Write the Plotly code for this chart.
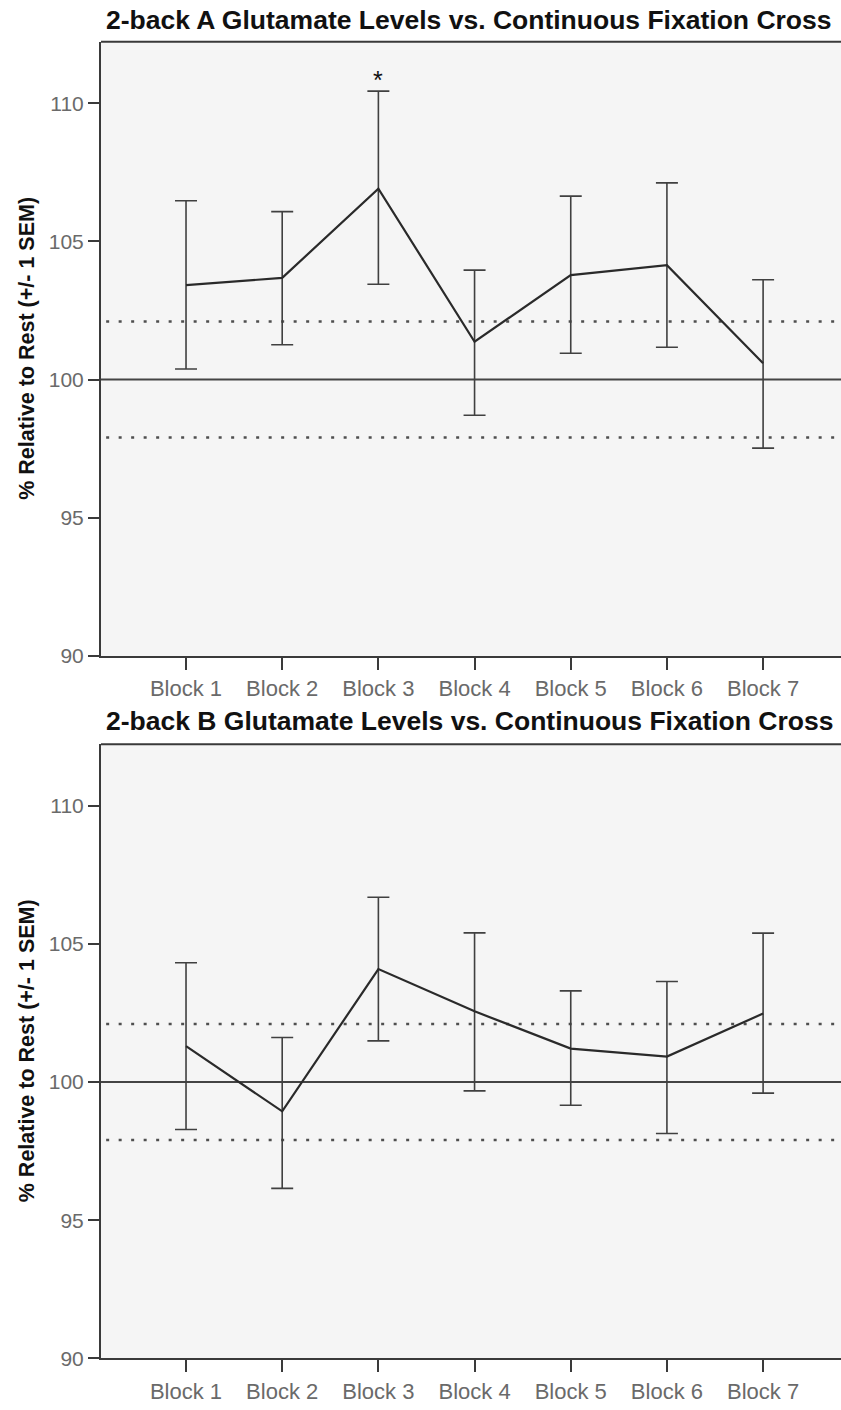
import plotly.graph_objects as go

blocks = ["Block 1", "Block 2", "Block 3", "Block 4", "Block 5", "Block 6", "Block 7"]

a_mean = [103.42, 103.68, 106.91, 101.37, 103.78, 104.14, 100.59]
a_upper = [106.47, 106.08, 110.44, 103.96, 106.64, 107.12, 103.61]
a_lower = [100.38, 101.26, 103.45, 98.71, 100.95, 101.17, 97.52]

b_mean = [101.30, 98.94, 104.09, 102.56, 101.21, 100.92, 102.48]
b_upper = [104.32, 101.61, 106.69, 105.40, 103.30, 103.64, 105.39]
b_lower = [98.28, 96.15, 101.49, 99.68, 99.16, 98.14, 99.60]

ref_line = 100
band_upper = 102.1
band_lower = 97.9
y_ticks = [90, 95, 100, 105, 110]

titles = ["2-back A Glutamate Levels vs. Continuous Fixation Cross",
          "2-back B Glutamate Levels vs. Continuous Fixation Cross"]
y_title = "% Relative to Rest (+/- 1 SEM)"

W, H = 841, 1410
L = 101
panels_px = [(42, 661), (750, 1369)]
title_px = [20, 727]

fig = go.Figure()

font_fam = "Liberation Sans, Arial, sans-serif"
axis_col = "#3a3a3a"

datasets = [(a_mean, a_upper, a_lower), (b_mean, b_upper, b_lower)]
for i, (m, up, lo) in enumerate(datasets):
    xa = "x" if i == 0 else "x2"
    ya = "y" if i == 0 else "y2"
    for val, dash, col, w in [(band_upper, "3px,9.5px", "#4f4f4f", 2.5),
                              (band_lower, "3px,9.5px", "#4f4f4f", 2.5),
                              (ref_line, "solid", "#444444", 2)]:
        fig.add_trace(go.Scatter(
            x=[-2, 9], y=[val, val], mode="lines",
            line=dict(color=col, width=w, dash=dash),
            xaxis=xa, yaxis=ya, showlegend=False, hoverinfo="skip"))
    fig.add_trace(go.Scatter(
        x=list(range(len(blocks))), y=m, mode="lines",
        line=dict(color="#2a2a2a", width=2.2),
        error_y=dict(type="data", symmetric=False,
                     array=[u - v for u, v in zip(up, m)],
                     arrayminus=[v - l for v, l in zip(m, lo)],
                     color="#404040", thickness=1.6, width=11),
        xaxis=xa, yaxis=ya, showlegend=False))

def ydom(px):
    top, bot = px
    return [1 - bot / H, 1 - top / H]

xrange_ = [-0.884, 6.81]
common_x = dict(range=xrange_, tickmode="array", tickvals=list(range(7)), ticktext=blocks,
                showline=True, linecolor=axis_col, linewidth=2, ticks="outside",
                ticklen=12, tickwidth=1.5, tickcolor=axis_col, showgrid=False, zeroline=False,
                tickfont=dict(family=font_fam, size=22, color="#6a6a6a"), mirror=False)
common_y = dict(range=[90, 112.23], tickmode="array", tickvals=y_ticks,
                showline=True, linecolor=axis_col, linewidth=2, ticks="outside",
                ticklen=11, tickwidth=2, tickcolor=axis_col, showgrid=False, zeroline=False,
                tickfont=dict(family=font_fam, size=21, color="#6a6a6a"))

fig.update_layout(
    width=W, height=H,
    margin=dict(l=L, r=0, t=0, b=0),
    paper_bgcolor="white", plot_bgcolor="#f5f5f5",
    xaxis=dict(domain=[0, 1], anchor="y", **common_x),
    yaxis=dict(domain=ydom(panels_px[0]), anchor="x", **common_y),
    xaxis2=dict(domain=[0, 1], anchor="y2", **common_x),
    yaxis2=dict(domain=ydom(panels_px[1]), anchor="x2", **common_y),
)

shapes = []
annotations = []
pw = W - L
for i, (top, bot) in enumerate(panels_px):
    shapes.append(dict(type="line", xref="paper", yref="paper",
                       x0=0, x1=1, y0=1 - top / H, y1=1 - top / H,
                       line=dict(color=axis_col, width=2)))
    annotations.append(dict(text="<b>" + titles[i] + "</b>", xref="paper", yref="paper",
                            x=(469 - L) / pw, y=1 - title_px[i] / H, xanchor="center",
                            yanchor="middle", showarrow=False,
                            font=dict(family=font_fam, size=26.5, color="#111111")))
    annotations.append(dict(text="<b>" + y_title + "</b>", xref="paper", yref="paper",
                            x=(27 - L) / pw, y=1 - ((top + bot) / 2) / H, xanchor="center",
                            yanchor="middle", textangle=-90, showarrow=False,
                            font=dict(family=font_fam, size=21.5, color="#111111")))

annotations.append(dict(text="*", x=2, y=a_upper[2], xref="x", yref="y",
                        yanchor="bottom", yshift=-5, showarrow=False,
                        font=dict(family=font_fam, size=25, color="#111111")))

fig.update_layout(shapes=shapes, annotations=annotations)
fig.write_html("out.html")
